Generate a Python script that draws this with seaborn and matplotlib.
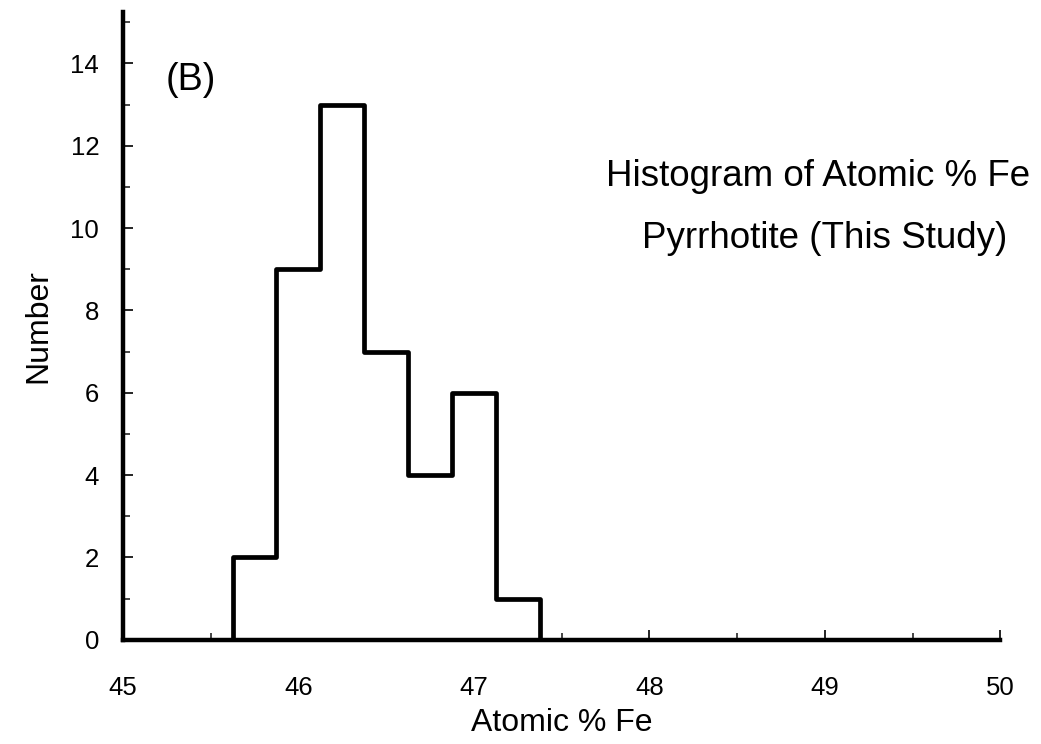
import numpy as np
import pandas as pd
import matplotlib
matplotlib.use("Agg")
import matplotlib.pyplot as plt
import seaborn as sns

# Histogram: bin edges (atomic % Fe) and counts
bin_edges = [45.625, 45.875, 46.125, 46.375, 46.625, 46.875, 47.125, 47.375]
counts = [2, 9, 13, 7, 4, 6, 1]
x_ticks = [45, 46, 47, 48, 49, 50]
y_ticks = [0, 2, 4, 6, 8, 10, 12, 14]

bin_centers = [(a + b) / 2 for a, b in zip(bin_edges[:-1], bin_edges[1:])]
df = pd.DataFrame({"fe": bin_centers, "n": counts})

sns.set_style("ticks")
plt.rcParams["font.family"] = ["Liberation Sans", "DejaVu Sans"]
plt.rcParams["text.color"] = "black"
plt.rcParams["axes.labelcolor"] = "black"

fig = plt.figure(figsize=(10.41, 7.44), dpi=100)
ax = fig.add_axes([0.118, 0.140, 0.843, 0.844])

sns.histplot(data=df, x="fe", weights="n", bins=bin_edges, element="step",
             fill=True, facecolor="white", edgecolor="black", alpha=1,
             linewidth=3.4, ax=ax)

ax.set_xlim(45, 50)
ax.set_ylim(0, 15.25)
ax.set_xticks(x_ticks)
ax.set_yticks(y_ticks)
ax.set_xticks(np.arange(45.5, 50, 1.0), minor=True)
ax.set_yticks(np.arange(1, 16, 2), minor=True)

sns.despine(ax=ax)
for s in ["left", "bottom"]:
    ax.spines[s].set_linewidth(3.2)
    ax.spines[s].set_color("black")
ax.spines["bottom"].set_zorder(5)

ax.tick_params(axis="both", which="major", direction="in", length=7, width=1.2,
               labelsize=18.5, colors="black")
ax.tick_params(axis="both", which="minor", direction="in", length=5, width=1.2)
ax.tick_params(axis="x", which="major", pad=26)
ax.tick_params(axis="y", which="major", pad=17)

ax.set_xlabel("Atomic % Fe", fontsize=23, labelpad=6)
ax.set_ylabel("Number", fontsize=23, labelpad=12)

ax.text(45.39, 13.6, "(B)", fontsize=27, ha="center", va="center")
ax.text(48.96, 11.26, "Histogram of Atomic % Fe", fontsize=26.5, ha="center",
        va="center", clip_on=False)
ax.text(49.0, 9.75, "Pyrrhotite (This Study)", fontsize=26.5, ha="center",
        va="center", clip_on=False)

fig.savefig("out.png", dpi=100)
